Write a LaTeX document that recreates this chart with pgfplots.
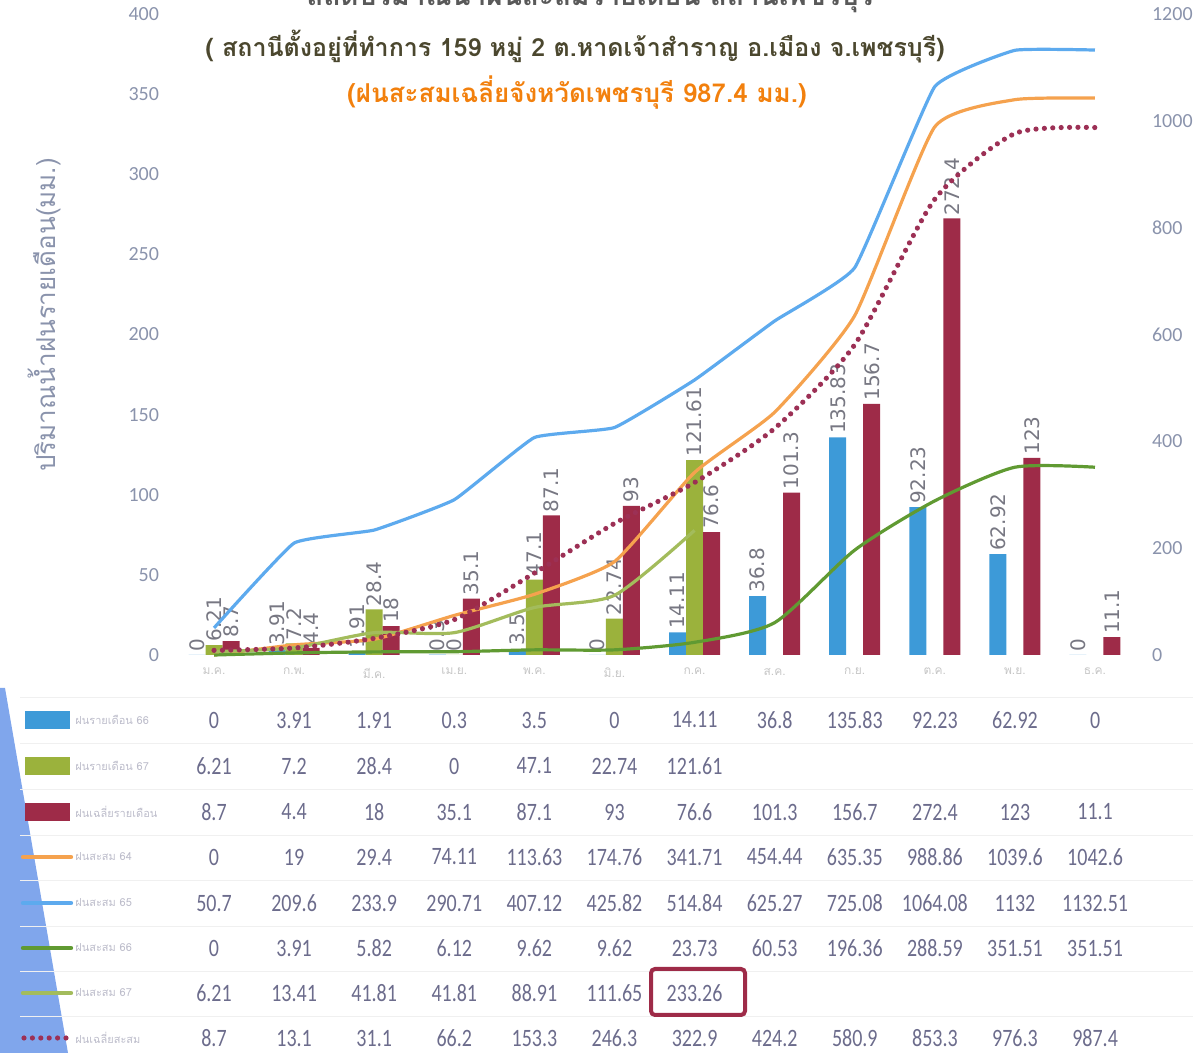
\documentclass[border=0pt]{standalone}
\usepackage{pgfplots}
\pgfplotsset{compat=1.18}
\usepackage{fontspec}
\setmainfont{Carlito}
\newfontfamily\thai[Script=Thai]{Loma}
\newfontfamily\tabfont[FakeStretch=0.8]{Carlito}
\newfontfamily\lblfont{DejaVu Sans}

\definecolor{barblue}{HTML}{3D9AD8}
\definecolor{bargreen}{HTML}{9BB23C}
\definecolor{barred}{HTML}{9E2B48}
\definecolor{lorange}{HTML}{F5A24E}
\definecolor{lblue}{HTML}{5DAAEE}
\definecolor{dgreen}{HTML}{609A32}
\definecolor{lgreen}{HTML}{A3BC5C}
\definecolor{dotred}{HTML}{9C3055}
\definecolor{tickc}{HTML}{8A93AC}
\definecolor{tabc}{HTML}{6C6C8C}
\definecolor{lblc}{HTML}{777782}
\definecolor{wedge}{HTML}{80A6EC}

\pgfplotsset{/pgf/number format/assume math mode=true, /pgf/number format/1000 sep={}}

% one row of the table under the chart: #1 = height, #2 = values
\newcommand\tabrow[2]{%
  \foreach \v [count=\i from 0] in {#2}
    \node[font=\tabfont\fontsize{12.5}{14}\selectfont, text=tabc, inner sep=0pt]
      at ({214+80.1*\i},#1) {\v};}

\begin{document}
\begin{tikzpicture}[x=0.5pt,y=0.5pt]

% background wedge at the left of the table
\fill[wedge] (0,365) -- (5,365) -- (68,0) -- (0,0) -- cycle;

% bars, left axis
\begin{axis}[
    at={(87pt,199pt)}, anchor=south west,
    scale only axis, width=480.5pt, height=320.5pt,
    xmin=-0.5, xmax=11.5, ymin=0, ymax=400,
    ytick={0,50,...,400},
    xtick={0,...,11},
    xticklabels={ม.ค.,ก.พ.,มี.ค.,เม.ย.,พ.ค.,มิ.ย.,ก.ค.,ส.ค.,ก.ย.,ต.ค.,พ.ย.,ธ.ค.},
    xticklabel style={font=\thai\fontsize{6}{7}\selectfont, text=gray!45, yshift=-3pt},
    yticklabel style={font=\fontsize{10}{12}\selectfont, text=tickc, xshift=-4pt},
    axis line style={draw=none},
    major tick length=0pt,
    ybar=0pt, bar width=8.5pt,
    nodes near coords,
    every node near coord/.append style={rotate=90, anchor=west, inner sep=1.5pt,
        font=\lblfont\fontsize{10}{11}\selectfont, text=lblc},
    clip=false,
]
\addplot[fill=barblue, draw=none] coordinates {
    (0,0) (1,3.91) (2,1.91) (3,0.3) (4,3.5) (5,0) (6,14.11) (7,36.8)
    (8,135.83) (9,92.23) (10,62.92) (11,0)};
\addplot[fill=bargreen, draw=none] coordinates {
    (0,6.21) (1,7.2) (2,28.4) (3,0) (4,47.1) (5,22.74) (6,121.61)};
\addplot[fill=barred, draw=none] coordinates {
    (0,8.7) (1,4.4) (2,18) (3,35.1) (4,87.1) (5,93) (6,76.6) (7,101.3)
    (8,156.7) (9,272.4) (10,123) (11,11.1)};
\end{axis}

% accumulated lines, right axis
\begin{axis}[
    at={(87pt,199pt)}, anchor=south west,
    scale only axis, width=480.5pt, height=320.5pt,
    xmin=-0.5, xmax=11.5, ymin=0, ymax=1200,
    ytick={0,200,...,1200},
    axis y line*=right, hide x axis,
    yticklabel style={font=\fontsize{10}{12}\selectfont, text=tickc, xshift=5pt},
    axis line style={draw=none},
    major tick length=0pt,
    clip=false,
]
\addplot[lorange, line width=1.6pt, smooth, tension=0.3] coordinates {
    (0,0) (1,19) (2,29.4) (3,74.11) (4,113.63) (5,174.76) (6,341.71) (7,454.44)
    (8,635.35) (9,988.86) (10,1039.6) (11,1042.6)};
\addplot[lblue, line width=1.6pt, smooth, tension=0.2] coordinates {
    (0,50.7) (1,209.6) (2,233.9) (3,290.71) (4,407.12) (5,425.82) (6,514.84) (7,625.27)
    (8,725.08) (9,1064.08) (10,1132) (11,1132.51)};
\addplot[dgreen, line width=1.6pt, smooth, tension=0.4] coordinates {
    (0,0) (1,3.91) (2,5.82) (3,6.12) (4,9.62) (5,9.62) (6,23.73) (7,60.53)
    (8,196.36) (9,288.59) (10,351.51) (11,351.51)};
\addplot[lgreen, line width=1.6pt, smooth, tension=0.4] coordinates {
    (0,6.21) (1,13.41) (2,41.81) (3,41.81) (4,88.91) (5,111.65) (6,233.26)};
\addplot[dotred, line width=2.6pt, line cap=round, dash pattern=on 0pt off 4.2pt,
    smooth, tension=0.4] coordinates {
    (0,8.7) (1,13.1) (2,31.1) (3,66.2) (4,153.3) (5,246.3) (6,322.9) (7,424.2)
    (8,580.9) (9,853.3) (10,976.3) (11,987.4)};
\end{axis}

% titles
\node[font=\thai\bfseries\fontsize{14}{17}\selectfont, text=black!65] at (590,1059)
    {สถิติปริมาณน้ำฝนสะสมรายเดือน สถานีเพชรบุรี};
\node[font=\thai\bfseries\fontsize{12.5}{15}\selectfont, text=black!62!olive] at (575,1006)
    {( สถานีตั้งอยู่ที่ทำการ 159 หมู่ 2 ต.หาดเจ้าสำราญ อ.เมือง จ.เพชรบุรี)};
\node[font=\thai\bfseries\fontsize{13}{16}\selectfont, text=orange!80!brown] at (577,960)
    {(ฝนสะสมเฉลี่ยจังหวัดเพชรบุรี 987.4 มม.)};
\node[rotate=90, font=\thai\fontsize{13}{15}\selectfont, text=tickc] at (44,738)
    {ปริมาณน้ำฝนรายเดือน(มม.)};

% data table below the chart
\foreach \yy in {356,310,264,218,173,127,82,37}
  \draw[gray!12, line width=0.4pt] (20,\yy) -- (1193,\yy);
\tabrow{333}{0,3.91,1.91,0.3,3.5,0,14.11,36.8,135.83,92.23,62.92,0}
\tabrow{287}{6.21,7.2,28.4,0,47.1,22.74,121.61}
\tabrow{241}{8.7,4.4,18,35.1,87.1,93,76.6,101.3,156.7,272.4,123,11.1}
\tabrow{196}{0,19,29.4,74.11,113.63,174.76,341.71,454.44,635.35,988.86,1039.6,1042.6}
\tabrow{150}{50.7,209.6,233.9,290.71,407.12,425.82,514.84,625.27,725.08,1064.08,1132,1132.51}
\tabrow{105}{0,3.91,5.82,6.12,9.62,9.62,23.73,60.53,196.36,288.59,351.51,351.51}
\tabrow{60}{6.21,13.41,41.81,41.81,88.91,111.65,233.26}
\tabrow{15}{8.7,13.1,31.1,66.2,153.3,246.3,322.9,424.2,580.9,853.3,976.3,987.4}

% legend keys of the table
\fill[barblue] (25,342) rectangle (70,324);
\fill[bargreen] (25,296) rectangle (70,278);
\fill[barred] (25,250) rectangle (70,232);
\draw[lorange, line width=2.2pt, line cap=round] (23,196) -- (71,196);
\draw[lblue, line width=2.2pt, line cap=round] (23,150) -- (71,150);
\draw[dgreen, line width=2.2pt, line cap=round] (23,105) -- (71,105);
\draw[lgreen, line width=2.2pt, line cap=round] (23,60) -- (71,60);
\draw[dotred, line width=2.6pt, line cap=round, dash pattern=on 0pt off 4.2pt] (24,15) -- (70,15);
\foreach \t/\yy in {ฝนรายเดือน 66/333, ฝนรายเดือน 67/287, ฝนเฉลี่ยรายเดือน/241,
    ฝนสะสม 64/196, ฝนสะสม 65/150, ฝนสะสม 66/105, ฝนสะสม 67/60, ฝนเฉลี่ยสะสม/15}
  \node[anchor=west, font=\thai\fontsize{5.5}{6}\selectfont, text=tabc!45, inner sep=0pt]
    at (75,\yy) {\t};

% highlight box
\draw[barred, line width=2pt, rounded corners=2pt] (651,84) rectangle (745,38);

\pgfresetboundingbox
\path[use as bounding box] (0,0) rectangle (1193,1053);
\end{tikzpicture}
\end{document}
